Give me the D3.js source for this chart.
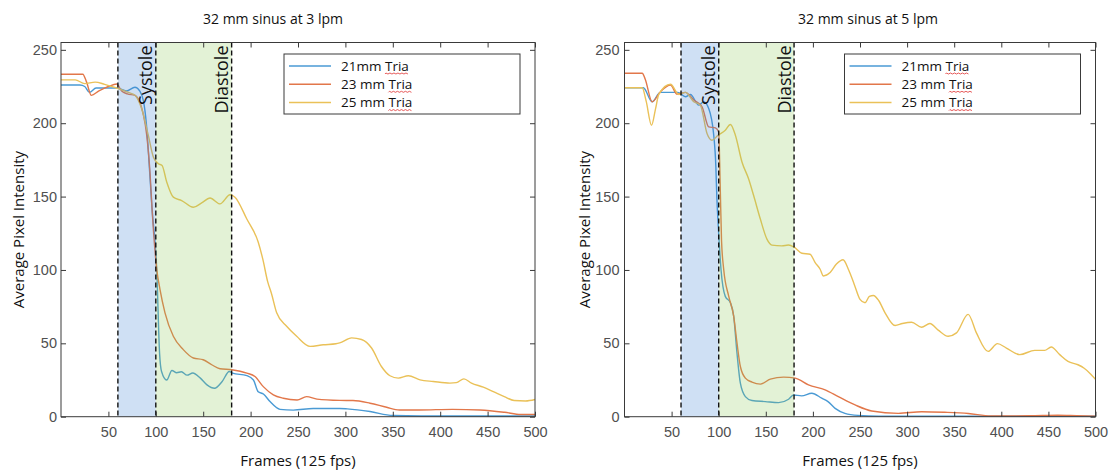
<!DOCTYPE html>
<html>
<head>
<meta charset="utf-8">
<script src="https://cdn.jsdelivr.net/npm/d3@7"></script>
<style>
  html, body { margin: 0; padding: 0; background: #fff; }
  svg { display: block; }
</style>
</head>
<body>
<svg id="chart" width="1109" height="472"></svg>
<script>
// ---- Data: average pixel intensity vs. frame number (125 fps) ----
const seriesNames = ["21mm Tria", "23 mm Tria", "25 mm Tria"];
const seriesColors = ["#4a9ad4", "#e2774a", "#eac158"];
const panelTitles = ["32 mm sinus at 3 lpm", "32 mm sinus at 5 lpm"];
const xTicks = [50, 100, 150, 200, 250, 300, 350, 400, 450, 500];
const yTicks = [0, 50, 100, 150, 200, 250];
const systole = [60, 100];
const diastole = [100, 180];

// 3 lpm
const frames21_3 = [0, 20, 25, 30, 37, 50, 59, 69, 78, 83, 87, 90, 94, 96, 101, 104, 106, 111.5, 117, 122, 127, 133, 139, 147, 154, 162, 170, 177.5, 181, 196, 203, 208, 213.5, 220.5, 231, 245, 266, 294, 302, 326, 350, 380, 500];
const values21_3 = [226, 226, 225, 221, 224, 224, 224, 222, 224.5, 222, 215, 200, 162, 142, 100, 43, 31, 25, 31.5, 30, 30.6, 28.3, 29.8, 26.3, 21.7, 19.4, 24, 30.8, 29.7, 28, 25, 17, 15.5, 10.3, 5, 4.5, 5.6, 5.6, 5.3, 3.5, 0.8, 0.5, 0.5];
const frames23_3 = [0, 23, 27, 32, 40, 50, 58.7, 64, 70, 78, 87, 90.4, 94, 96, 101, 104.4, 109.7, 118.5, 129, 139.6, 150, 159, 167.7, 180, 196, 204.6, 213.4, 224, 234.5, 249, 259, 270, 294, 308, 326, 343.5, 357, 378, 413, 442, 468, 485, 500];
const values23_3 = [233.4, 233.4, 228, 219, 222, 225, 226.7, 222, 220, 219, 205.5, 192, 165, 142, 100.5, 86.8, 70.8, 54.8, 45.7, 40, 38.8, 35.4, 32.7, 32, 29.7, 27.4, 20.5, 14.9, 12.6, 11.4, 13.7, 12, 11.1, 11, 9.2, 6.4, 4.6, 4.6, 5, 4.6, 3, 1.5, 1.5];
const frames25_3 = [0, 15, 25, 36, 46, 58.7, 71, 78, 85, 92, 97.4, 102.7, 106.6, 111.5, 118.5, 127.3, 139.6, 148.4, 157.2, 167.7, 178.3, 183.5, 196, 208, 213, 218, 222, 227.5, 238, 248.6, 262.7, 276.7, 290, 294, 306.6, 317, 327.6, 338, 347, 355.8, 366.4, 378.7, 392.7, 410.3, 417, 425, 433, 445.5, 456, 467.6, 478, 490, 500];
const values25_3 = [229.5, 229.5, 227, 228, 226.5, 224, 221, 219, 210, 192, 177, 172.4, 171.2, 160, 149.6, 147.3, 142.7, 145.7, 149, 145, 151.2, 149.6, 134.7, 119, 107, 92, 84, 70.8, 61.6, 54.8, 47.9, 49, 49.7, 50.3, 53.7, 52.6, 46.8, 34.2, 27.9, 26.3, 27.9, 25.1, 24, 22.9, 23.2, 25.8, 22.9, 20.1, 17.1, 13.7, 11, 10.7, 11.7];

// 5 lpm
const frames21_5 = [0, 20, 29.3, 38, 56.6, 64.7, 70, 78.8, 84, 89.4, 94.7, 97, 98, 100, 102.5, 107, 112.4, 115.9, 119.4, 123, 128.3, 135.3, 149.5, 163.6, 174.2, 179.4, 188, 198.8, 209.4, 216, 223.6, 234, 248, 270, 500];
const values21_5 = [224.2, 224.2, 214.6, 221, 221, 218, 219.6, 212.3, 214.6, 210, 192, 170, 150, 125, 100, 82, 77.7, 68.5, 43.4, 22.8, 13.7, 11, 10.3, 9.6, 11.9, 14.8, 14.2, 16, 12.6, 10.3, 5.7, 2.3, 0.9, 0.4, 0.3];
const frames23_5 = [0, 18.8, 22, 29.3, 38.2, 48.8, 55.8, 64.7, 73.5, 82.3, 89.4, 96.5, 100, 101.5, 103, 105.3, 110.6, 115.9, 119.4, 123, 128.3, 135.3, 144.2, 154.8, 168.9, 181.3, 195.3, 213, 227, 244.8, 262.4, 290.7, 315.4, 340, 365, 389, 430, 460, 480, 500];
const values23_5 = [234, 234, 230, 214.6, 221.5, 226, 219.8, 221, 215.8, 211.2, 197.5, 196.8, 194, 160, 120, 100.5, 82.2, 68.5, 50.3, 34.2, 26.3, 23.6, 22.2, 25.6, 27, 26.3, 21.7, 18.3, 13.7, 8, 3.9, 2.3, 3.4, 3, 2.2, 0.5, 0.6, 1, 0.7, 0.4];
const frames25_5 = [0, 18.8, 23, 28.7, 33, 36.4, 48.8, 57.7, 64.7, 73.5, 80.5, 87.6, 92.9, 99.3, 107, 112.4, 117.7, 124.7, 131.8, 137.1, 144.2, 151.2, 156.5, 167, 174, 180, 188.3, 197, 202.4, 207.7, 211.2, 218.3, 225, 232, 238, 244, 250, 255.4, 260, 264.2, 270, 276.6, 287.2, 295, 304.8, 315.4, 324.2, 333, 343.6, 352.4, 364.8, 373.6, 386, 395.9, 405.4, 419.6, 435.5, 446, 453, 462, 470.8, 481.4, 488, 495, 500];
const values25_5 = [224.2, 224.2, 215, 198.6, 210, 219.6, 226.5, 219.6, 221, 214.6, 212.3, 193, 188.4, 191.8, 195.2, 199.1, 191.8, 173.6, 162, 150.7, 134.7, 121, 116.9, 116.4, 117, 115.6, 111.4, 110.7, 105, 100.5, 95.9, 98.2, 104, 107, 100, 90, 80, 77.7, 82, 82.6, 79, 70.8, 62.1, 63.5, 64.4, 61, 63.5, 59, 54.8, 57.1, 69.7, 57.1, 44.5, 49.8, 46.8, 42.3, 45.2, 45.2, 47.5, 42.3, 37.7, 35.4, 33, 29, 25.5];

const panels = [
  { title: panelTitles[0], left: 61, right: 535, titleX: 273, ylabelX: 24, tickPad: 4,
    frames: [frames21_3, frames23_3, frames25_3], values: [values21_3, values23_3, values25_3] },
  { title: panelTitles[1], left: 624.5, right: 1095.5, titleX: 868, ylabelX: 590, tickPad: 5,
    frames: [frames21_5, frames23_5, frames25_5], values: [values21_5, values23_5, values25_5] }
];

// ---- Layout ----
const plotTop = 42.5, plotBottom = 416.7;
const labelFont = "'Open Sans', 'Noto Sans', sans-serif";
const tickFont = "'Liberation Sans', Arial, sans-serif";
const axisColor = "#3a3a3a";

const svg = d3.select("#chart");

panels.forEach((p) => {
  const x = d3.scaleLinear().domain([0, 500]).range([p.left, p.right]);
  const y = d3.scaleLinear().domain([0, 255]).range([plotBottom, plotTop]);
  const g = svg.append("g");

  // series lines
  const line = d3.line()
    .x(d => x(d[0]))
    .y(d => y(d[1]))
    .curve(d3.curveMonotoneX);
  p.frames.forEach((fr, i) => {
    const pts = fr.map((f, j) => [f, p.values[i][j]]);
    g.append("path")
      .datum(pts)
      .attr("d", line)
      .attr("fill", "none")
      .attr("stroke", seriesColors[i])
      .attr("stroke-width", 1.4)
      .attr("stroke-linejoin", "round");
  });

  // translucent phase bands (drawn over the curves)
  g.append("rect")
    .attr("x", x(systole[0])).attr("y", plotTop)
    .attr("width", x(systole[1]) - x(systole[0])).attr("height", plotBottom - plotTop)
    .attr("fill", "rgb(63,130,210)").attr("fill-opacity", 0.25);
  g.append("rect")
    .attr("x", x(diastole[0])).attr("y", plotTop)
    .attr("width", x(diastole[1]) - x(diastole[0])).attr("height", plotBottom - plotTop)
    .attr("fill", "rgb(143,203,91)").attr("fill-opacity", 0.25);

  // dashed phase boundaries
  [systole[0], systole[1], diastole[1]].forEach(v => {
    g.append("line")
      .attr("x1", x(v)).attr("x2", x(v))
      .attr("y1", plotTop).attr("y2", plotBottom)
      .attr("stroke", "#111").attr("stroke-width", 1.4)
      .attr("stroke-dasharray", "5,3");
  });

  // phase labels
  [["Systole", systole[1]], ["Diastole", diastole[1]]].forEach(([t, v]) => {
    g.append("text")
      .attr("transform", `translate(${x(v) - 3.5},${plotTop + 3}) rotate(-90)`)
      .attr("text-anchor", "end")
      .attr("font-family", labelFont)
      .attr("font-size", 18)
      .attr("fill", "#111")
      .text(t);
  });

  // axes box
  g.append("rect")
    .attr("x", p.left).attr("y", plotTop)
    .attr("width", p.right - p.left).attr("height", plotBottom - plotTop)
    .attr("fill", "none").attr("stroke", axisColor).attr("stroke-width", 1);

  // inward ticks on all four sides
  const xAxisB = d3.axisBottom(x).tickValues(xTicks).tickSize(-5).tickPadding(10);
  const xAxisT = d3.axisTop(x).tickValues(xTicks).tickSize(-5).tickFormat("");
  const yAxisL = d3.axisLeft(y).tickValues(yTicks).tickSize(-5).tickPadding(p.tickPad);
  const yAxisR = d3.axisRight(y).tickValues(yTicks).tickSize(-5).tickFormat("");
  const styleAxis = sel => {
    sel.select(".domain").remove();
    sel.selectAll("line").attr("stroke", axisColor);
    sel.selectAll("text")
      .attr("font-family", tickFont)
      .attr("font-size", 14.5)
      .attr("fill", "#505050");
  };
  g.append("g").attr("transform", `translate(0,${plotBottom})`).call(xAxisB).call(styleAxis);
  g.append("g").attr("transform", `translate(0,${plotTop})`).call(xAxisT).call(styleAxis);
  g.append("g").attr("transform", `translate(${p.left},0)`).call(yAxisL).call(styleAxis);
  g.append("g").attr("transform", `translate(${p.right},0)`).call(yAxisR).call(styleAxis);

  // title and axis labels
  g.append("text")
    .attr("x", p.titleX).attr("y", 24)
    .attr("text-anchor", "middle")
    .attr("font-family", labelFont).attr("font-size", 14).attr("fill", "#111")
    .text(p.title);
  g.append("text")
    .attr("x", (p.left + p.right) / 2).attr("y", 466)
    .attr("text-anchor", "middle")
    .attr("font-family", labelFont).attr("font-size", 15).attr("fill", "#111")
    .text("Frames (125 fps)");
  g.append("text")
    .attr("transform", `translate(${p.ylabelX},${(plotTop + plotBottom) / 2}) rotate(-90)`)
    .attr("text-anchor", "middle")
    .attr("font-family", labelFont).attr("font-size", 15).attr("fill", "#111")
    .text("Average Pixel Intensity");

  // legend
  const lw = 236, lh = 60;
  const lx = p.right - 15 - lw, ly = plotTop + 11.5;
  const lg = g.append("g").attr("transform", `translate(${lx},${ly})`);
  lg.append("rect")
    .attr("width", lw).attr("height", lh)
    .attr("fill", "#fff").attr("stroke", axisColor).attr("stroke-width", 1);
  seriesNames.forEach((name, i) => {
    const yy = 12 + i * 18.3;
    lg.append("line")
      .attr("x1", 5).attr("x2", 47).attr("y1", yy).attr("y2", yy)
      .attr("stroke", seriesColors[i]).attr("stroke-width", 1.5);
    const t = lg.append("text")
      .attr("x", 57).attr("y", yy + 4.5)
      .attr("font-family", labelFont).attr("font-size", 13.5).attr("fill", "#111")
      .text(name);
    // red spell-check squiggle under "Tria"
    const node = t.node();
    const k = name.indexOf("Tria");
    const x0 = node.getStartPositionOfChar(k).x;
    const w = node.getSubStringLength(k, 4);
    let d = `M${x0},${yy + 8}`;
    for (let s = 0; s * 2 < w; s++) {
      d += `L${x0 + s * 2 + 1},${yy + (s % 2 ? 8 : 7)}`;
    }
    lg.append("path").attr("d", d).attr("fill", "none")
      .attr("stroke", "#e03030").attr("stroke-width", 0.8);
  });
});
</script>
</body>
</html>
